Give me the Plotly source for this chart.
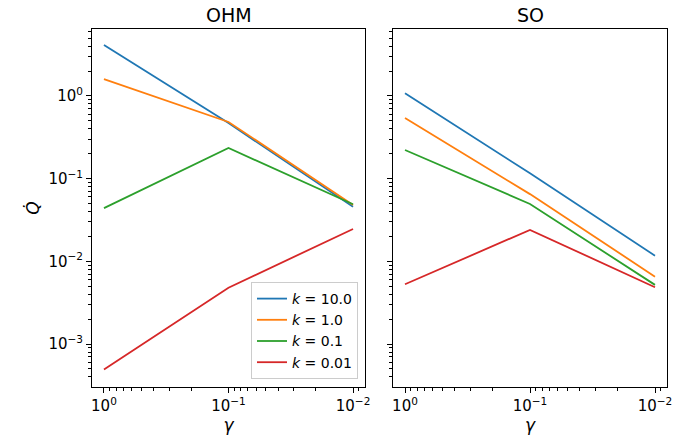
import plotly.graph_objects as go
from plotly.subplots import make_subplots

gamma = [1.0, 0.1, 0.01]
labels = ["<i>k</i> = 10.0", "<i>k</i> = 1.0", "<i>k</i> = 0.1", "<i>k</i> = 0.01"]
colors = ["#1f77b4", "#ff7f0e", "#2ca02c", "#d62728"]

ohm_k10 = [4.14, 0.47, 0.0457]
ohm_k1 = [1.6, 0.485, 0.048]
ohm_k01 = [0.044, 0.235, 0.049]
ohm_k001 = [0.00049, 0.0048, 0.0246]

so_k10 = [1.08, 0.116, 0.0117]
so_k1 = [0.542, 0.065, 0.00653]
so_k01 = [0.222, 0.0494, 0.00519]
so_k001 = [0.00528, 0.024, 0.00486]

ohm = [ohm_k10, ohm_k1, ohm_k01, ohm_k001]
so = [so_k10, so_k1, so_k01, so_k001]

fig = make_subplots(rows=1, cols=2, shared_yaxes=True)

for i in range(4):
    fig.add_trace(go.Scatter(x=gamma, y=ohm[i], mode="lines", name=labels[i],
                             line=dict(color=colors[i], width=1.8)), row=1, col=1)
    fig.add_trace(go.Scatter(x=gamma, y=so[i], mode="lines", name=labels[i], showlegend=False,
                             line=dict(color=colors[i], width=1.8)), row=1, col=2)

minor_vals = [m * 10.0 ** e for e in range(-5, 2) for m in range(2, 10)]
xt_vals = [1, 0.1, 0.01]
xt_text = ["10<sup>0</sup>", "10<sup>−1</sup>", "10<sup>−2</sup>"]
yt_vals = [1, 0.1, 0.01, 0.001]
yt_text = ["10<sup>0</sup>", "10<sup>−1</sup>", "10<sup>−2</sup>", "10<sup>−3</sup>"]

axis_common = dict(type="log", showline=True, linecolor="black", linewidth=1, mirror=True,
                   ticks="outside", ticklen=5, tickwidth=1, tickcolor="black",
                   showgrid=False, zeroline=False,
                   tickfont=dict(size=15, color="black", family="DejaVu Sans"),
                   minor=dict(ticks="outside", ticklen=3, tickwidth=0.8, tickcolor="black",
                              tickvals=minor_vals, showgrid=False))

fig.update_xaxes(**axis_common, range=[0.096, -2.096], tickvals=xt_vals, ticktext=xt_text,
                 title=dict(text="<i>γ</i>", font=dict(size=17, family="DejaVu Sans", color="black"), standoff=2),
                 automargin=False)
fig.update_xaxes(domain=[92 / 673, 365 / 673], row=1, col=1)
fig.update_xaxes(domain=[393 / 673, 667 / 673], row=1, col=2)
fig.update_yaxes(**axis_common, range=[-3.52, 0.81], tickvals=yt_vals, ticktext=yt_text,
                 domain=[1 - 387 / 438, 1 - 29 / 438], automargin=False)
fig.update_yaxes(title=dict(text="<i>Q̇</i>", font=dict(size=17, family="DejaVu Sans", color="black"), standoff=4),
                 row=1, col=1)
fig.update_yaxes(showticklabels=False, row=1, col=2)

fig.add_annotation(text="OHM", x=(92 + 365) / 2 / 673, y=1 - 15 / 438, xref="paper", yref="paper",
                   xanchor="center", yanchor="middle",
                   showarrow=False, font=dict(size=19, family="DejaVu Sans", color="black"))
fig.add_annotation(text="SO", x=(393 + 667) / 2 / 673, y=1 - 15 / 438, xref="paper", yref="paper",
                   xanchor="center", yanchor="middle",
                   showarrow=False, font=dict(size=19, family="DejaVu Sans", color="black"))

fig.update_layout(
    width=673, height=438,
    margin=dict(l=0, r=0, t=0, b=0),
    paper_bgcolor="white", plot_bgcolor="white",
    legend=dict(x=358 / 673, y=1 - 379 / 438, xanchor="right", yanchor="bottom",
                bgcolor="rgba(255,255,255,0.8)", bordercolor="#cccccc", borderwidth=1,
                font=dict(size=14, family="DejaVu Sans", color="black"),
                itemwidth=30, tracegroupgap=0),
    showlegend=True,
)

fig.write_html("out.html")
